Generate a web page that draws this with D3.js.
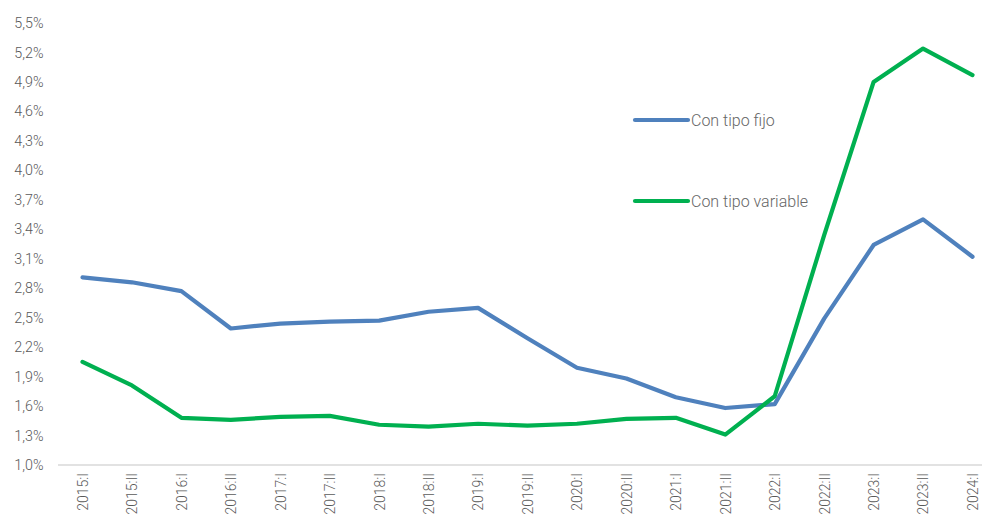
<!DOCTYPE html>
<html>
<head>
<meta charset="utf-8">
<script src="https://cdn.jsdelivr.net/npm/d3@7"></script>
<style>
  html, body { margin: 0; padding: 0; background: #fff; }
  svg { display: block; }
  text { font-family: Roboto, "Noto Sans", sans-serif; font-weight: 300; fill: #595959; }
</style>
</head>
<body>
<svg id="chart" width="982" height="520"></svg>
<script>
// Half-year periods
const periods = ["2015:I","2015:II","2016:I","2016:II","2017:I","2017:II","2018:I","2018:II",
  "2019:I","2019:II","2020:I","2020:II","2021:I","2021:II","2022:I","2022:II","2023:I","2023:II","2024:I"];

// Interest rates (%)
const tipoFijo = [2.91, 2.86, 2.77, 2.39, 2.44, 2.46, 2.47, 2.56, 2.60, 2.29,
  1.99, 1.88, 1.69, 1.58, 1.62, 2.49, 3.24, 3.50, 3.12];
const tipoVariable = [2.05, 1.81, 1.48, 1.46, 1.49, 1.50, 1.41, 1.39, 1.42, 1.40,
  1.42, 1.47, 1.48, 1.31, 1.70, 3.34, 4.90, 5.24, 4.97];

const seriesNames = ["Con tipo fijo", "Con tipo variable"];
const seriesColors = ["#4F81BD", "#00B050"];

// Y axis ticks 1,0% … 5,5%
const yTicks = [1.0, 1.3, 1.6, 1.9, 2.2, 2.5, 2.8, 3.1, 3.4, 3.7, 4.0, 4.3, 4.6, 4.9, 5.2, 5.5];

const svg = d3.select("#chart");

const x = d3.scalePoint().domain(periods).range([82.5, 972.5]);
const y = d3.scaleLinear().domain([1.0, 5.5]).range([465, 23]);

const fmt = v => v.toFixed(1).replace(".", ",") + "%";

// Y axis labels
const yAxis = svg.append("g").attr("transform", "translate(43.5,0)")
  .call(d3.axisLeft(y).tickValues(yTicks).tickFormat(fmt).tickSize(0).tickPadding(0));
yAxis.select(".domain").remove();
yAxis.selectAll("text").style("font-size", "14.3px").style("fill", "#595959");

// Baseline
svg.append("line")
  .attr("x1", 58).attr("x2", 997)
  .attr("y1", y(1.0)).attr("y2", y(1.0))
  .attr("stroke", "#d9d9d9").attr("stroke-width", 1.3);

// X axis labels (rotated)
const xAxis = svg.append("g").attr("transform", `translate(0,${y(1.0)})`)
  .call(d3.axisBottom(x).tickSize(0).tickPadding(0));
xAxis.select(".domain").remove();
xAxis.selectAll("text")
  .style("font-size", "14px").style("fill", "#595959")
  .attr("transform", "rotate(-90)")
  .attr("text-anchor", "end")
  .attr("x", -8).attr("y", 0).attr("dy", "0.35em");

// Lines
const line = d3.line().x((d, i) => x(periods[i])).y(d => y(d));
[tipoFijo, tipoVariable].forEach((vals, k) => {
  svg.append("path")
    .datum(vals)
    .attr("d", line)
    .attr("fill", "none")
    .attr("stroke", seriesColors[k])
    .attr("stroke-width", 4.2)
    .attr("stroke-linejoin", "round")
    .attr("stroke-linecap", "round");
});

// Legend
const legendY = [120, 201];
seriesNames.forEach((name, k) => {
  const g = svg.append("g").attr("transform", `translate(635,${legendY[k]})`);
  g.append("line").attr("x1", 0).attr("x2", 53).attr("y1", 0).attr("y2", 0)
    .attr("stroke", seriesColors[k]).attr("stroke-width", 4.2).attr("stroke-linecap", "round");
  g.append("text").attr("x", 56).attr("y", 0).attr("dy", "0.35em")
    .style("font-size", "16px").style("fill", "#666").text(name);
});
</script>
</body>
</html>
